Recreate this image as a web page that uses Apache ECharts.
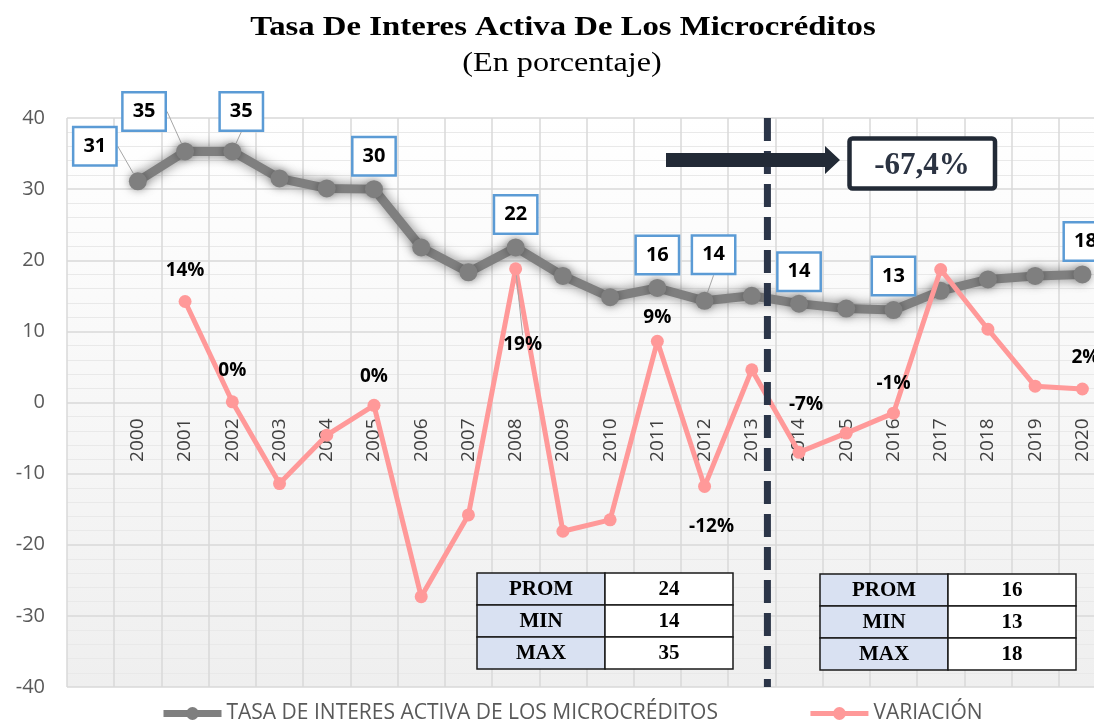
<!DOCTYPE html>
<html>
<head>
<meta charset="utf-8">
<title>Tasa De Interes Activa De Los Microcréditos</title>
<script src="https://cdn.jsdelivr.net/npm/echarts@6/dist/echarts.min.js"></script>
<style>
  html, body { margin: 0; padding: 0; background: #fff; }
  #chart { width: 1094px; height: 723px; }
</style>
</head>
<body>
<div id="chart"></div>
<script>
// data
var years = ['2000', '2001', '2002', '2003', '2004', '2005', '2006', '2007', '2008', '2009', '2010',
  '2011', '2012', '2013', '2014', '2015', '2016', '2017', '2018', '2019', '2020'];
var tasa = [31.1, 35.3, 35.3, 31.5, 30.1, 30.0, 21.8, 18.3, 21.8, 17.8, 14.8,
  16.1, 14.3, 15.0, 13.9, 13.2, 13.0, 15.7, 17.3, 17.8, 18.0];
var variacion = [null, 14.2, 0.1, -11.4, -4.6, -0.4, -27.3, -15.8, 18.8, -18.1, -16.5,
  8.6, -11.8, 4.6, -7.0, -4.3, -1.5, 18.7, 10.3, 2.3, 1.9];
var yTicks = [-40, -30, -20, -10, 0, 10, 20, 30, 40];
var periodSplit = 14; // first 14 years before the dashed line
var changeText = '-67,4%';
var statNames = ['PROM', 'MIN', 'MAX'];
var titleText = 'Tasa De Interes Activa De Los Microcréditos';
var subtitleText = '(En porcentaje)';
var seriesNames = ['TASA DE INTERES ACTIVA DE LOS MICROCRÉDITOS', 'VARIACIÓN'];

// which points get a label, and where it sits (offset from the point)
var tasaLabels = {
  '2000': { off: [-43, -35], line: true },
  '2001': { off: [-41, -40], line: true },
  '2002': { off: [9, -40], line: true },
  '2005': { off: [0, -33] },
  '2008': { off: [0, -33] },
  '2011': { off: [0, -33] },
  '2012': { off: [9, -46], line: true },
  '2014': { off: [0, -32] },
  '2016': { off: [0, -34] },
  '2020': { off: [3, -33] }
};
var varLabels = {
  '2001': { off: [0, -31] },
  '2002': { off: [0, -31] },
  '2005': { off: [0, -29] },
  '2008': { off: [7, 76], line: true },
  '2011': { off: [0, -24] },
  '2012': { off: [7, 40] },
  '2014': { off: [7, -48] },
  '2016': { off: [0, -30] },
  '2020': { off: [3, -31] }
};

var FONT = 'Open Sans';
var SERIF = 'Liberation Serif';
var GRID = { left: 67, top: 118, width: 1039, height: 569 };

var categories = [''].concat(years);
var yMin = yTicks[0], yMax = yTicks[yTicks.length - 1];
// the category labels sit on the zero line
var zeroOffset = -GRID.height * (0 - yMin) / (yMax - yMin);

function buildData(values, labels, labelStyle) {
  var out = [null];
  values.forEach(function (v, i) {
    var cfg = labels[years[i]];
    if (v == null) { out.push(null); return; }
    if (!cfg) { out.push(v); return; }
    var item = {
      value: v,
      label: Object.assign({ show: true, position: 'inside', offset: cfg.off }, labelStyle)
    };
    if (cfg.line) {
      item.labelLine = { show: true, lineStyle: { color: '#a6a6a6', width: 1 } };
    }
    out.push(item);
  });
  return out;
}

var tasaData = buildData(tasa, tasaLabels, {
  formatter: function (p) { return String(Math.round(p.value)); },
  backgroundColor: '#fff',
  borderColor: '#5b9bd5',
  borderWidth: 2.5,
  padding: [7, 9, 7, 9],
  lineHeight: 22,
  fontSize: 20,
  fontWeight: 'bold',
  fontFamily: FONT,
  color: '#000'
});

var varData = buildData(variacion, varLabels, {
  formatter: function (p) { return Math.round(p.value) + '%'; },
  fontSize: 19,
  fontWeight: 'bold',
  fontFamily: FONT,
  color: '#000'
});

var option = {
  backgroundColor: '#fff',
  animation: false,
  legend: {
    left: 160,
    top: 703,
    padding: 0,
    itemGap: 90,
    itemWidth: 58,
    itemHeight: 16,
    data: [
      { name: seriesNames[0], lineStyle: { width: 7 } },
      { name: seriesNames[1], lineStyle: { width: 5 } }
    ],
    textStyle: { color: '#595959', fontSize: 21, fontFamily: FONT }
  },
  grid: Object.assign({
    outerBoundsMode: 'none',
    containLabel: false,
    show: true,
    borderWidth: 0,
    backgroundColor: new echarts.graphic.LinearGradient(0, 0, 0, 1, [
      { offset: 0, color: '#ffffff' },
      { offset: 1, color: '#efefef' }
    ])
  }, GRID),
  xAxis: [
    {
      // vertical grid lines
      type: 'category',
      data: categories,
      boundaryGap: true,
      axisLine: { show: false },
      axisTick: { show: false },
      axisLabel: { show: false },
      splitLine: { show: true, lineStyle: { color: '#d9d9d9', width: 1.5 } }
    },
    {
      // year labels on the zero line
      type: 'category',
      data: categories,
      boundaryGap: true,
      position: 'bottom',
      offset: zeroOffset,
      axisLine: { show: false, onZero: false },
      axisTick: { show: false },
      axisLabel: {
        rotate: 90, interval: 0, margin: 16,
        color: '#404040', fontSize: 19, fontFamily: FONT
      },
      splitLine: { show: false }
    }
  ],
  yAxis: {
    type: 'value',
    min: yMin,
    max: yMax,
    interval: yTicks[1] - yTicks[0],
    axisLine: { show: false },
    axisTick: { show: false },
    axisLabel: { color: '#595959', fontSize: 20, fontFamily: FONT, margin: 22 },
    splitLine: { lineStyle: { color: '#d9d9d9', width: 1.5 } },
    minorTick: { show: false, splitNumber: 5 },
    minorSplitLine: { show: true, lineStyle: { color: '#e9e9e9', width: 1 } }
  },
  series: [
    {
      name: seriesNames[0],
      type: 'line',
      data: tasaData,
      z: 2,
      symbol: 'circle',
      symbolSize: 18,
      lineStyle: {
        color: '#7f7f7f', width: 9,
        shadowColor: 'rgba(0,0,0,0.5)', shadowBlur: 12
      },
      itemStyle: { color: '#7f7f7f', shadowColor: 'rgba(0,0,0,0.35)', shadowBlur: 8 }
    },
    {
      name: seriesNames[1],
      type: 'line',
      data: varData,
      z: 3,
      symbol: 'circle',
      symbolSize: 13,
      lineStyle: { color: '#ff9999', width: 5 },
      itemStyle: { color: '#ff9999' }
    }
  ]
};

var chart = echarts.init(document.getElementById('chart'));
chart.setOption(option);

function stats(arr) {
  var sum = arr.reduce(function (a, b) { return a + b; }, 0);
  return [Math.round(sum / arr.length), Math.round(Math.min.apply(null, arr)), Math.round(Math.max.apply(null, arr))];
}

function table(x, y, vals) {
  var rowH = 32, colW = 128, els = [];
  statNames.forEach(function (name, r) {
    els.push({
      type: 'rect', shape: { x: x, y: y + r * rowH, width: colW, height: rowH },
      style: { fill: '#d9e1f2', stroke: '#1a1a1a', lineWidth: 1.5 }
    });
    els.push({
      type: 'rect', shape: { x: x + colW, y: y + r * rowH, width: colW, height: rowH },
      style: { fill: '#fff', stroke: '#1a1a1a', lineWidth: 1.5 }
    });
    els.push({
      type: 'text', x: x + colW / 2, y: y + r * rowH + rowH / 2 + 1,
      style: { text: name, align: 'center', verticalAlign: 'middle', fill: '#000',
        font: 'bold 21px "' + SERIF + '"' }
    });
    els.push({
      type: 'text', x: x + colW * 1.5, y: y + r * rowH + rowH / 2 + 1,
      style: { text: String(vals[r]), align: 'center', verticalAlign: 'middle', fill: '#000',
        font: 'bold 21px "' + SERIF + '"' }
    });
  });
  return els;
}

var xa = chart.convertToPixel({ xAxisIndex: 0 }, years[periodSplit - 1]);
var xb = chart.convertToPixel({ xAxisIndex: 0 }, years[periodSplit]);
var yTop = chart.convertToPixel({ yAxisIndex: 0 }, yMax);
var yBot = chart.convertToPixel({ yAxisIndex: 0 }, yMin);
var splitX = (xa + xb) / 2 - 8;

var graphics = [
  // title and subtitle (the original text is drawn a bit wide)
  {
    type: 'text', x: 563, y: 28, scaleX: 1.17,
    style: { text: titleText, align: 'center', verticalAlign: 'middle', fill: '#000',
      font: 'bold 28px "' + SERIF + '"' }
  },
  {
    type: 'text', x: 562, y: 64, scaleX: 1.15,
    style: { text: subtitleText, align: 'center', verticalAlign: 'middle', fill: '#000',
      font: '28px "' + SERIF + '"' }
  },
  {
    type: 'line', z: 20,
    shape: { x1: splitX, y1: yTop, x2: splitX, y2: yBot },
    style: { stroke: '#2b3548', lineWidth: 7, lineDash: [23, 10] }
  },
  {
    type: 'polygon', z: 21,
    shape: { points: [[666, 153], [825, 153], [825, 146], [840, 160], [825, 174], [825, 167], [666, 167]] },
    style: { fill: '#222a36' }
  },
  {
    type: 'rect', z: 21,
    shape: { x: 849.5, y: 138.5, width: 145.5, height: 50, r: 3 },
    style: { fill: '#fff', stroke: '#222a36', lineWidth: 4.5 }
  },
  {
    type: 'text', z: 22, x: 922, y: 166,
    style: { text: changeText, align: 'center', verticalAlign: 'middle', fill: '#2b3342',
      font: 'bold 31px "' + SERIF + '"' }
  }
];
graphics = graphics
  .concat(table(477, 573, stats(tasa.slice(0, periodSplit))))
  .concat(table(820, 574, stats(tasa.slice(periodSplit))));

chart.setOption({ graphic: graphics });
</script>
</body>
</html>
